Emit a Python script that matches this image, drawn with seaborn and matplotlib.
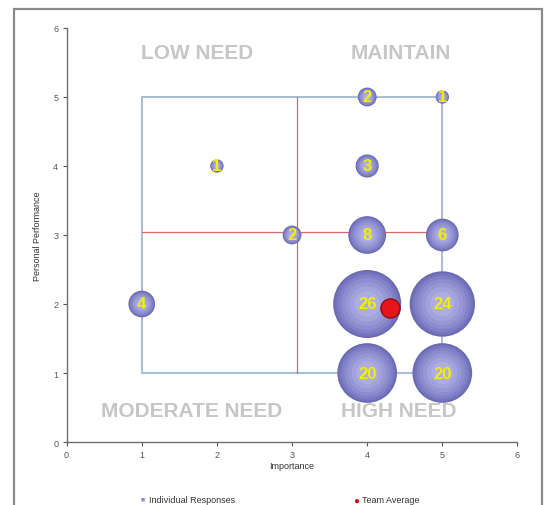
import matplotlib
matplotlib.use("Agg")
import matplotlib.pyplot as plt
import numpy as np
import pandas as pd
import seaborn as sns
from matplotlib.patches import Rectangle

# individual responses: importance, performance, number of responses
importance = [1, 2, 3, 4, 5, 4, 4, 5, 4, 5, 4, 5]
performance = [2, 4, 3, 5, 5, 4, 3, 3, 2, 2, 1, 1]
counts = [4, 1, 2, 2, 1, 3, 8, 6, 26, 24, 20, 20]

team_importance = [4.30]
team_performance = [1.94]

quadrant_labels = ["LOW NEED", "MAINTAIN", "MODERATE NEED", "HIGH NEED"]
quadrant_x = [1.74, 4.45, 1.67, 4.42]
quadrant_y = [5.64, 5.64, 0.46, 0.46]

box_lo, box_hi = 1, 5
divider_x, divider_y = 3.07, 3.04

df = pd.DataFrame({"Importance": importance,
                   "Personal Performance": performance,
                   "n": counts})

sns.set_style("white")
plt.rcParams["font.family"] = ["Liberation Sans", "DejaVu Sans"]

fig = plt.figure(figsize=(5.47, 5.06), dpi=100)
ax = fig.add_axes([0.1218, 0.1245, 0.8242, 0.8182])

# outer chart frame
fig.patches.append(Rectangle((14 / 547, -0.1), (542 - 14) / 547, 1.1 - 10 / 506,
                             transform=fig.transFigure, fill=False,
                             edgecolor="#8a8a8a", linewidth=1.6, zorder=0))

# quadrant box and dividers
ax.plot([box_lo, box_hi, box_hi, box_lo, box_lo],
        [box_lo, box_lo, box_hi, box_hi, box_lo],
        color="#adbdd5", linewidth=1.5, zorder=1)
ax.plot([box_lo, box_hi], [divider_y, divider_y], color="#d86868", linewidth=0.9, zorder=1)
ax.plot([divider_x, divider_x], [box_lo, box_hi], color="#d86868", linewidth=0.9, zorder=1)

# bubbles, area proportional to count; layered to fake the radial gradient
per_unit = 92.3
shades = ["#6a6ab4", "#7676bf", "#8181c8", "#8c8ccf", "#9797d6", "#a2a2dc", "#adade2"]
scales = [1.0, 0.88, 0.74, 0.58, 0.42, 0.27, 0.14]
for shade, k in zip(shades, scales):
    sns.scatterplot(data=df, x="Importance", y="Personal Performance",
                    size="n", sizes=(per_unit * k, 26 * per_unit * k),
                    size_norm=(1, 26), color=shade, edgecolor="none",
                    linewidth=0, legend=False, ax=ax, zorder=2)

for x, y, n in zip(importance, performance, counts):
    ax.text(x, y, str(n), ha="center", va="center", color="#f0f000",
            fontsize=12, fontweight="bold", zorder=4)

sns.scatterplot(x=team_importance, y=team_performance, s=190, color="#e8141c",
                edgecolor="#8a1010", linewidth=1.0, legend=False, ax=ax, zorder=5)

for label, x, y in zip(quadrant_labels, quadrant_x, quadrant_y):
    ax.text(x, y, label, ha="center", va="center", color="#c6c6c6",
            fontsize=15, fontweight="bold", zorder=3)

ax.set_xlim(0, 6)
ax.set_ylim(0, 6)
ax.set_xticks(range(7))
ax.set_yticks(range(7))
ax.set_xlabel("Importance", fontsize=6.5, color="#333333", labelpad=1)
ax.set_ylabel("Personal Performance", fontsize=6.5, color="#333333", labelpad=8)
ax.tick_params(axis="both", labelsize=6.5, colors="#555555", length=3,
               width=0.8, direction="out", bottom=True, left=True, pad=3)
sns.despine(ax=ax)
for side in ["left", "bottom"]:
    ax.spines[side].set_color("#6f6f6f")
    ax.spines[side].set_linewidth(1.0)

# legend strip along the bottom edge
leg_y = 0.011
fig.text(143 / 547, leg_y, "■", color="#8a8ad0", fontsize=5, ha="center", va="center")
fig.text(149 / 547, leg_y, "Individual Responses", color="#333333", fontsize=6.5, va="center")
fig.text(356 / 547, leg_y, "●", color="#d01010", fontsize=7, ha="center", va="center")
fig.text(362 / 547, leg_y, "Team Average", color="#333333", fontsize=6.5, va="center")

fig.savefig("out.png", dpi=100)
